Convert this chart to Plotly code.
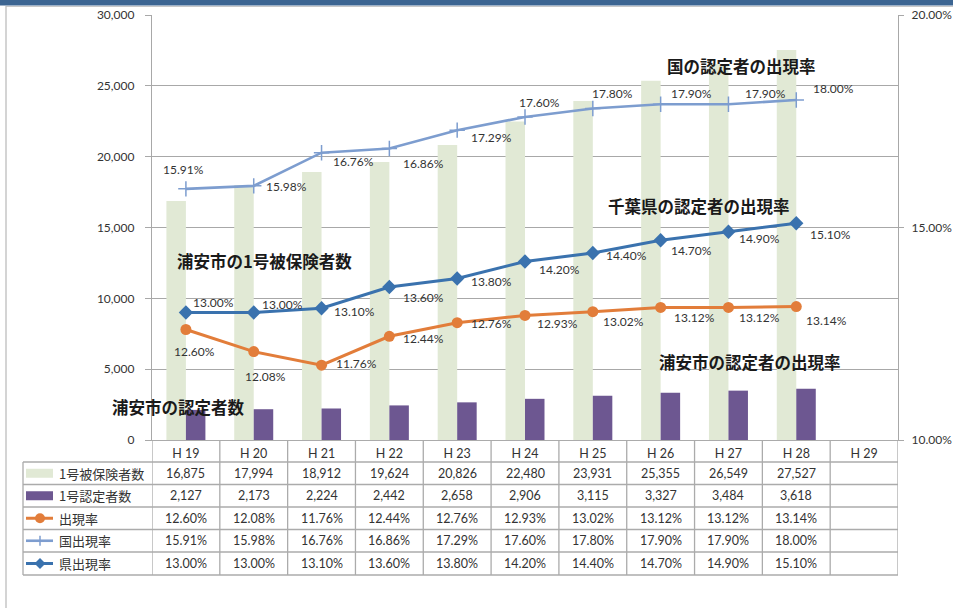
import plotly.graph_objects as go

W, H = 953, 608

# ---------------- data ----------------
categories = ["H 19", "H 20", "H 21", "H 22", "H 23", "H 24", "H 25", "H 26", "H 27", "H 28", "H 29"]
insured = [16875, 17994, 18912, 19624, 20826, 22480, 23931, 25355, 26549, 27527]
certified = [2127, 2173, 2224, 2442, 2658, 2906, 3115, 3327, 3484, 3618]
rate_city = [0.1260, 0.1208, 0.1176, 0.1244, 0.1276, 0.1293, 0.1302, 0.1312, 0.1312, 0.1314]
rate_nation = [0.1591, 0.1598, 0.1676, 0.1686, 0.1729, 0.1760, 0.1780, 0.1790, 0.1790, 0.1800]
rate_pref = [0.1300, 0.1300, 0.1310, 0.1360, 0.1380, 0.1420, 0.1440, 0.1470, 0.1490, 0.1510]

series_names = ["1号被保険者数", "1号認定者数", "出現率", "国出現率", "県出現率"]
callouts = ["国の認定者の出現率", "千葉県の認定者の出現率", "浦安市の1号被保険者数",
            "浦安市の認定者の出現率", "浦安市の認定者数"]

# ---------------- styles / positions ----------------
C_GREEN = "#e1e9d5"
C_PURPLE = "#6d5791"
C_ORANGE = "#e27d3a"
C_LBLUE = "#7d9dcf"
C_DBLUE = "#3a72ae"
C_GRID = "#a8a8a8"
C_TEXT = "#333333"
FONT = "Lato, 'Noto Sans CJK JP', sans-serif"
JFONT = "'Noto Sans CJK JP', sans-serif"

def px(x):
    return x / W

def py(y):
    return 1 - y / H

PL, PR, PT, PB = 152, 898, 15, 440

# label offsets (dx, dy screen px)
off_nation = [(-2, -19), (33, 1), (32, 9), (34, 15), (34, 7), (14, -15), (20, -15), (31, -11), (37, -11), (37, -12)]
off_pref = [(28, -10), (29, -8), (33, 3), (34, 10), (34, 3), (34, 8), (34, 2), (31, 10), (31, 7), (34, 11)]
off_city = [(9, 22), (12, 25), (35, -2), (34, 2), (34, 1), (32, 8), (31, 10), (34, 10), (31, 10), (30, 14)]
callout_pos = [(741, 66), (699, 206), (264, 261), (750, 362), (178, 407)]

n = len(insured)
xs = categories[:n]

fig = go.Figure()
fig.add_trace(go.Bar(x=xs, y=insured, name=series_names[0], marker=dict(color=C_GREEN, line=dict(width=0)), yaxis="y"))
fig.add_trace(go.Bar(x=xs, y=certified, name=series_names[1], marker=dict(color=C_PURPLE, line=dict(width=0)), yaxis="y"))
fig.add_trace(go.Scatter(x=xs, y=rate_nation, name=series_names[3], yaxis="y2", mode="lines+markers",
                         line=dict(color=C_LBLUE, width=2.6),
                         marker=dict(symbol="cross-thin", size=11, line=dict(color=C_LBLUE, width=1.5))))
fig.add_trace(go.Scatter(x=xs, y=rate_pref, name=series_names[4], yaxis="y2", mode="lines+markers",
                         line=dict(color=C_DBLUE, width=3),
                         marker=dict(symbol="diamond", size=11, color=C_DBLUE)))
fig.add_trace(go.Scatter(x=xs, y=rate_city, name=series_names[2], yaxis="y2", mode="lines+markers",
                         line=dict(color=C_ORANGE, width=3),
                         marker=dict(symbol="circle", size=11, color=C_ORANGE)))

annotations = []
for vals, offs in ((rate_nation, off_nation), (rate_pref, off_pref), (rate_city, off_city)):
    for c, v, (dx, dy) in zip(xs, vals, offs):
        annotations.append(dict(x=c, y=v, xref="x", yref="y2", text=f"{v*100:.2f}%", showarrow=False,
                                xanchor="center", yanchor="middle",
                                xshift=dx, yshift=-dy, font=dict(family=FONT, size=12, color=C_TEXT)))

for t, (cx, cy) in zip(callouts, callout_pos):
    annotations.append(dict(x=px(cx), y=py(cy), xref="paper", yref="paper", text=f"<b>{t}</b>",
                            xanchor="center", yanchor="middle",
                            showarrow=False, font=dict(family=JFONT, size=16.5, color="#1a1a1a")))

# ---------------- data table ----------------
row_lines = [462, 484.5, 507, 529.5, 552, 575]
row_centers = [(row_lines[i] + row_lines[i + 1]) / 2 for i in range(5)]
table_rows = [
    [f"{v:,}" for v in insured],
    [f"{v:,}" for v in certified],
    [f"{v*100:.2f}%" for v in rate_city],
    [f"{v*100:.2f}%" for v in rate_nation],
    [f"{v*100:.2f}%" for v in rate_pref],
]
for r, vals in enumerate(table_rows):
    for c, s in zip(xs, vals):
        annotations.append(dict(x=c, y=py(row_centers[r]), xref="x", yref="paper", text=s, showarrow=False,
                                xanchor="center", yanchor="middle",
                                font=dict(family=FONT, size=12.5, color=C_TEXT)))
    annotations.append(dict(x=px(57), y=py(row_centers[r]), xref="paper", yref="paper", xanchor="left",
                            yanchor="middle", text=series_names[r], showarrow=False,
                            font=dict(family=JFONT, size=13, color=C_TEXT)))

shapes = []
TL = 23
TC = "#ababab"
# horizontal table lines
for yl in row_lines:
    shapes.append(dict(type="line", xref="paper", yref="paper", x0=px(TL), x1=px(PR), y0=py(yl), y1=py(yl),
                       line=dict(color=TC, width=1.3)))
# vertical table lines (category boundaries)
for k in range(len(categories) + 1):
    shapes.append(dict(type="line", xref="x", yref="paper", x0=k - 0.5, x1=k - 0.5, y0=py(PB), y1=py(row_lines[-1]),
                       line=dict(color=TC, width=1.3)))
shapes.append(dict(type="line", xref="paper", yref="paper", x0=px(TL), x1=px(TL), y0=py(row_lines[0]), y1=py(row_lines[-1]),
                   line=dict(color=TC, width=1.3)))

# legend keys
kx0, kx1, kc = 26, 53, 40
shapes.append(dict(type="rect", xref="paper", yref="paper", x0=px(kx0), x1=px(kx1), y0=py(row_centers[0] - 4.5),
                   y1=py(row_centers[0] + 4.5), fillcolor=C_GREEN, line=dict(width=0)))
shapes.append(dict(type="rect", xref="paper", yref="paper", x0=px(kx0), x1=px(kx1), y0=py(row_centers[1] - 4.5),
                   y1=py(row_centers[1] + 4.5), fillcolor=C_PURPLE, line=dict(width=0)))
for r, col, w in ((2, C_ORANGE, 3), (3, C_LBLUE, 2.6), (4, C_DBLUE, 3)):
    yc = row_centers[r]
    shapes.append(dict(type="line", xref="paper", yref="paper", x0=px(kx0), x1=px(kx1), y0=py(yc), y1=py(yc),
                       line=dict(color=col, width=w)))
yc = row_centers[2]
shapes.append(dict(type="circle", xref="paper", yref="paper", x0=px(kc - 5), x1=px(kc + 5), y0=py(yc - 5), y1=py(yc + 5),
                   fillcolor=C_ORANGE, line=dict(width=0)))
yc = row_centers[3]
shapes.append(dict(type="line", xref="paper", yref="paper", x0=px(kc), x1=px(kc), y0=py(yc - 5), y1=py(yc + 5),
                   line=dict(color=C_LBLUE, width=1.5)))
yc = row_centers[4]
shapes.append(dict(type="path", xref="paper", yref="paper",
                   path=f"M {px(kc-5.5)} {py(yc)} L {px(kc)} {py(yc-5.5)} L {px(kc+5.5)} {py(yc)} L {px(kc)} {py(yc+5.5)} Z",
                   fillcolor=C_DBLUE, line=dict(width=0)))

# frame: top strip and chart border
shapes.append(dict(type="rect", xref="paper", yref="paper", x0=0, x1=1, y0=py(5.5), y1=1,
                   fillcolor="#3c6592", line=dict(width=0)))
shapes.append(dict(type="line", xref="paper", yref="paper", x0=px(6), x1=1, y0=py(6.5), y1=py(6.5),
                   line=dict(color="#c8c8c8", width=1)))
shapes.append(dict(type="line", xref="paper", yref="paper", x0=px(6), x1=px(6), y0=py(6), y1=0,
                   line=dict(color="#bdbdbd", width=1.3)))

fig.update_layout(
    width=W, height=H, autosize=False,
    margin=dict(l=0, r=0, t=0, b=0, autoexpand=False),
    paper_bgcolor="white", plot_bgcolor="white",
    barmode="group", bargap=0.425, bargroupgap=0,
    showlegend=False,
    font=dict(family=FONT, size=12, color=C_TEXT),
    xaxis=dict(domain=[px(PL), px(PR)], type="category", categoryorder="array", categoryarray=categories,
               range=[-0.5, len(categories) - 0.5], showgrid=False, showline=True, linecolor=TC, linewidth=1.3,
               ticks="", tickfont=dict(family=FONT, size=12.5, color=C_TEXT), ticklabelstandoff=2,
               fixedrange=True, automargin=False),
    yaxis=dict(domain=[py(PB), py(PT)], range=[0, 30000], dtick=5000, tickformat=",", showgrid=True,
               gridcolor=C_GRID, gridwidth=1, showline=True, linecolor=C_GRID, linewidth=1.3,
               ticks="outside", ticklen=6, tickcolor=C_GRID, ticklabelstandoff=8, automargin=False,
               tickfont=dict(family=FONT, size=12, color=C_TEXT), zeroline=False),
    yaxis2=dict(overlaying="y", side="right", range=[0.10, 0.20], dtick=0.05, tickformat=".2%",
                showgrid=False, showline=True, linecolor=C_GRID, linewidth=1.3, anchor="x",
                ticks="outside", ticklen=5, tickcolor=C_GRID, ticklabelstandoff=5, automargin=False,
                tickfont=dict(family=FONT, size=12, color=C_TEXT), zeroline=False),
    annotations=annotations,
    shapes=shapes,
)

fig.write_html("out.html")
